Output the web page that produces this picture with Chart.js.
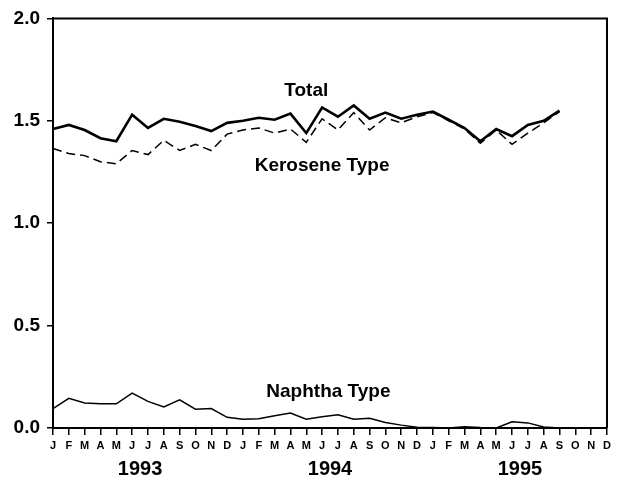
<!DOCTYPE html>
<html>
<head>
<meta charset="utf-8">
<script src="https://cdn.jsdelivr.net/npm/chart.js@4"></script>
<style>
  html, body { margin: 0; padding: 0; background: #fff; }
  #wrap { width: 626px; height: 483px; }
</style>
</head>
<body>
<div id="wrap"><canvas id="myChart" width="626" height="483"></canvas></div>
<script>
const meses = ["J", "F", "M", "A", "M", "J", "J", "A", "S", "O", "N", "D"];
const anos = ["1993", "1994", "1995"];
const yTicks = [0, 0.5, 1.0, 1.5, 2.0];

// Jan 1993 - Sep 1995
const total = [
  1.46, 1.48, 1.455, 1.415, 1.40, 1.53, 1.465, 1.51, 1.495, 1.475, 1.45, 1.49,
  1.50, 1.515, 1.505, 1.535, 1.44, 1.565, 1.52, 1.575, 1.51, 1.54, 1.51, 1.53,
  1.545, 1.505, 1.465, 1.40, 1.46, 1.425, 1.48, 1.50, 1.55
];
const querosene = [
  1.365, 1.34, 1.33, 1.30, 1.29, 1.355, 1.335, 1.405, 1.355, 1.385, 1.355, 1.435,
  1.455, 1.465, 1.44, 1.46, 1.395, 1.51, 1.455, 1.54, 1.455, 1.515, 1.49, 1.52,
  1.54, 1.50, 1.46, 1.39, 1.455, 1.385, 1.44, 1.49, 1.545
];
const nafta = [
  0.095, 0.145, 0.122, 0.118, 0.118, 0.17, 0.13, 0.103, 0.138, 0.092, 0.095, 0.052,
  0.043, 0.045, 0.06, 0.073, 0.043, 0.055, 0.065, 0.043, 0.047, 0.027, 0.014, 0.004,
  0.002, 0.0, 0.006, 0.002, 0.0, 0.03, 0.025, 0.005, 0.0
];

const labels = [];
anos.forEach(() => meses.forEach((m) => labels.push(m)));

const fonte = "'Liberation Sans', Arial, sans-serif";

// textos dentro do grafico: [texto, indice do mes, valor]
const rotulos = [
  ["Total", 16, 1.645],
  ["Kerosene Type", 17, 1.28],
  ["Naphtha Type", 17.4, 0.175]
];

const extras = {
  id: "extras",
  afterDraw(chart) {
    const c = chart.ctx;
    const a = chart.chartArea;
    const x = chart.scales.x;
    const y = chart.scales.y;
    c.save();
    c.strokeStyle = "#000";
    c.lineWidth = 2;
    c.beginPath();
    c.moveTo(a.left, a.top);
    c.lineTo(a.right, a.top);
    c.lineTo(a.right, a.bottom);
    c.stroke();

    c.fillStyle = "#000";
    c.textAlign = "center";
    c.textBaseline = "middle";
    c.font = "bold 19px " + fonte;
    rotulos.forEach((r) => {
      c.fillText(r[0], x.getPixelForValue(r[1]), y.getPixelForValue(r[2]));
    });

    c.font = "bold 20px " + fonte;
    anos.forEach((ano, i) => {
      const meio = x.getPixelForValue(i * 12 + 5.5);
      c.fillText(ano, meio, 469);
    });
    c.restore();
  }
};

new Chart(document.getElementById("myChart"), {
  type: "line",
  data: {
    labels: labels,
    datasets: [
      { label: "Total", data: total, borderColor: "#000", borderWidth: 2.6 },
      { label: "Kerosene Type", data: querosene, borderColor: "#000", borderWidth: 1.5, borderDash: [9, 5] },
      { label: "Naphtha Type", data: nafta, borderColor: "#000", borderWidth: 1.5 }
    ]
  },
  options: {
    responsive: false,
    animation: false,
    layout: { padding: { top: 15, right: 19, left: 0, bottom: 0 } },
    elements: { point: { radius: 0 }, line: { tension: 0 } },
    plugins: { legend: { display: false }, tooltip: { enabled: false } },
    scales: {
      x: {
        type: "category",
        offset: false,
        border: { display: true, color: "#000", width: 2 },
        grid: { drawOnChartArea: false, drawTicks: true, tickLength: 7, color: "#000", lineWidth: 1.5 },
        ticks: {
          autoSkip: false,
          maxRotation: 0,
          color: "#000",
          padding: 4,
          font: { family: fonte, size: 11, weight: "bold" }
        },
        afterFit: (s) => { s.height = 55; }
      },
      y: {
        min: 0,
        max: 2,
        border: { display: true, color: "#000", width: 2 },
        grid: { drawOnChartArea: false, drawTicks: true, tickLength: 6, color: "#000", lineWidth: 1.5 },
        afterBuildTicks: (s) => { s.ticks = yTicks.map((v) => ({ value: v })); },
        ticks: {
          color: "#000",
          padding: 7,
          font: { family: fonte, size: 19, weight: "bold" },
          callback: (v) => Number(v).toFixed(1)
        },
        afterFit: (s) => { s.width = 53; }
      }
    }
  },
  plugins: [extras]
});
</script>
</body>
</html>
